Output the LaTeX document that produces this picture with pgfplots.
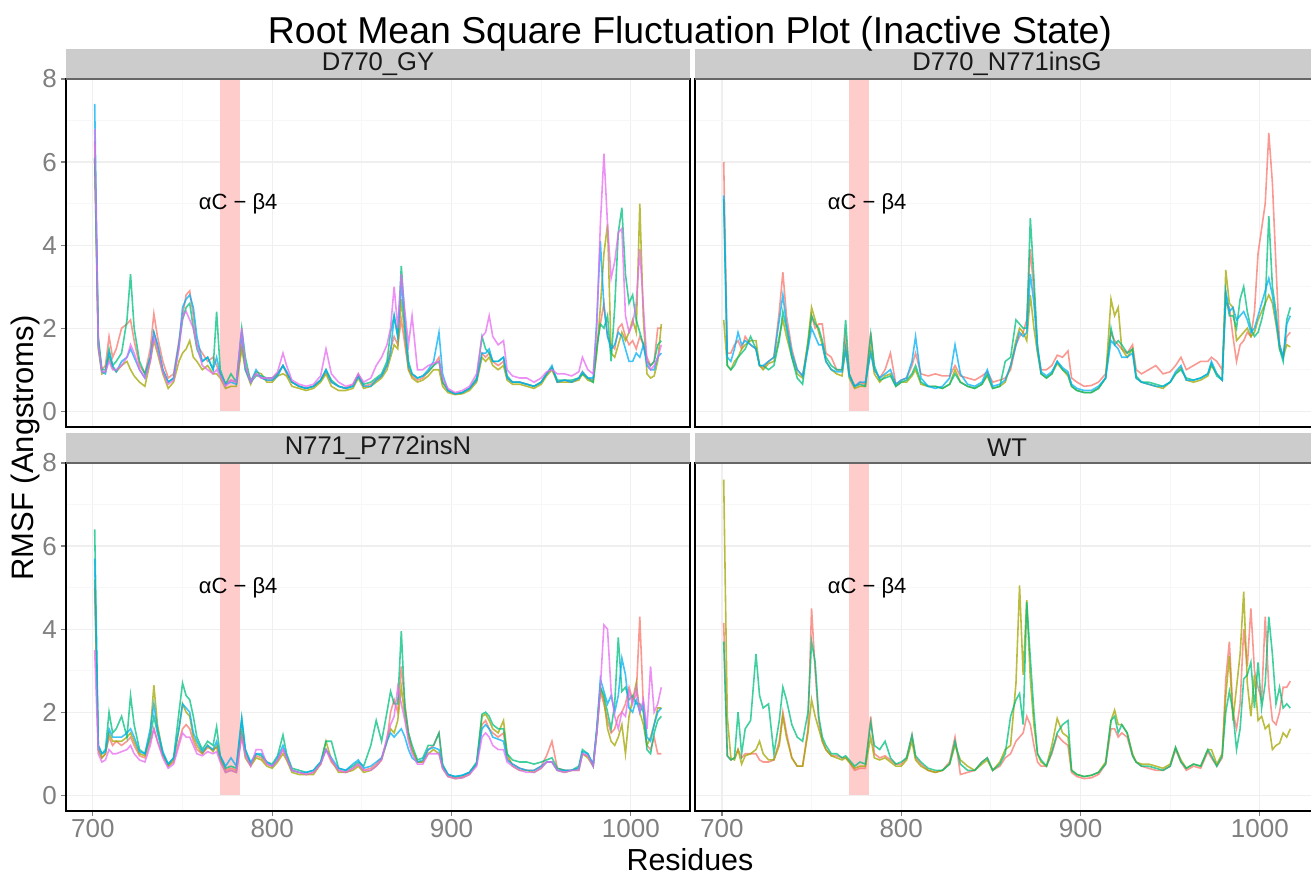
\documentclass[border=0pt]{standalone}
\usepackage{fontspec}
\setmainfont{Liberation Sans}
\usepackage{pgfplots}
\usepackage{pgfplotstable}
\pgfplotsset{compat=1.18}
\definecolor{cR}{HTML}{F8766D}
\definecolor{cO}{HTML}{A3A500}
\definecolor{cG}{HTML}{00BF7D}
\definecolor{cB}{HTML}{00B0F6}
\definecolor{cP}{HTML}{E76BF3}
\definecolor{tickgray}{HTML}{7F7F7F}
\definecolor{stripgray}{HTML}{CCCCCC}
\definecolor{gridmaj}{HTML}{EFEFEF}
\definecolor{gridmin}{HTML}{F7F7F7}
\definecolor{band}{HTML}{FFCCCC}

\pgfplotstableread{
x R O G B P
701 6.5 6.1 6.1 7.4 6.8
703 1.7 1.5 1.8 1.6 1.6
705 1.0 0.9 1.0 0.95 0.95
707 1.1 0.95 1.0 0.9 0.95
709 1.8 1.3 1.5 1.4 1.2
711 1.3 1.05 1.1 1.1 1.0
713 1.5 0.95 1.2 0.95 1.0
716 2.0 1.1 1.4 1.2 1.1
719 2.1 1.2 2.2 1.3 1.3
721 2.2 1.0 3.3 1.5 1.6
723 1.7 0.85 2.0 1.3 1.4
726 1.1 0.7 1.2 1.0 1.0
729 0.9 0.6 0.9 0.8 0.8
732 1.5 1.2 1.3 1.3 1.2
734 2.35 1.7 1.9 1.9 1.8
736 1.8 1.4 1.6 1.6 1.5
739 1.2 0.9 1.0 1.0 0.95
742 0.8 0.55 0.7 0.7 0.65
745 0.9 0.7 0.8 0.8 0.75
748 1.7 1.2 1.6 1.6 1.5
750 2.3 1.4 2.2 2.5 2.3
752 2.8 1.5 2.5 2.7 2.4
754 2.9 1.7 2.6 2.8 2.2
756 2.3 1.3 2.0 2.5 2.0
758 1.6 1.2 1.5 1.8 1.6
761 1.4 1.0 1.2 1.2 1.1
764 1.2 1.1 1.3 1.3 1.0
767 1.3 0.9 1.0 1.0 0.9
769 1.1 0.9 2.4 1.3 1.0
771 0.9 0.8 1.0 0.9 0.85
774 0.65 0.55 0.65 0.65 0.6
777 0.75 0.6 0.9 0.7 0.75
780 0.7 0.6 0.7 0.65 0.7
783 1.6 1.5 2.0 1.9 2.0
785 1.1 1.0 1.3 1.0 1.1
788 0.75 0.65 0.7 0.7 0.7
791 0.9 0.95 0.85 1.0 0.9
794 0.8 0.9 0.85 0.8 0.8
797 0.75 0.7 0.8 0.75 0.8
800 0.75 0.7 0.8 0.75 0.8
803 0.9 0.85 0.9 0.85 0.95
806 1.1 0.9 1.1 1.1 1.4
808 0.9 0.85 0.95 0.95 1.1
811 0.7 0.6 0.7 0.7 0.75
815 0.6 0.55 0.6 0.6 0.65
819 0.55 0.5 0.55 0.55 0.6
823 0.6 0.55 0.6 0.6 0.65
827 0.75 0.7 0.75 0.75 0.85
830 0.95 0.9 1.0 1.0 1.5
833 0.7 0.6 0.75 0.7 0.9
837 0.6 0.5 0.6 0.6 0.7
841 0.55 0.5 0.55 0.55 0.6
845 0.65 0.55 0.6 0.6 0.65
848 0.9 0.8 0.85 0.85 0.9
851 0.6 0.55 0.65 0.6 0.7
855 0.65 0.6 0.7 0.6 0.8
858 0.75 0.7 0.8 0.75 1.1
861 0.85 0.8 0.9 0.85 1.3
864 1.1 1.0 1.2 1.1 1.6
866 1.5 1.3 1.9 1.4 2.0
868 1.8 1.6 2.3 2.3 3.0
870 1.6 1.5 1.8 1.8 2.0
872 2.2 2.7 3.5 3.1 3.3
874 1.6 1.8 2.2 2.0 2.4
876 1.0 1.0 1.2 1.1 1.6
878 0.85 0.8 0.9 0.9 2.3
881 0.75 0.7 0.8 0.8 1.0
884 0.8 0.75 0.85 0.85 1.0
887 0.95 0.85 0.95 1.0 1.1
890 1.1 1.0 1.1 1.2 1.15
893 1.3 1.0 1.2 1.9 1.2
895 0.7 0.6 0.7 0.9 0.8
898 0.5 0.45 0.5 0.5 0.55
902 0.42 0.4 0.42 0.42 0.45
906 0.45 0.42 0.45 0.45 0.5
910 0.55 0.5 0.55 0.55 0.6
914 0.75 0.7 0.8 0.75 0.9
917 1.4 1.3 1.8 1.4 1.8
919 1.3 1.2 1.5 1.4 1.9
921 1.4 1.3 1.4 1.5 2.3
923 1.2 1.1 1.2 1.2 1.8
926 1.1 1.0 1.2 1.2 1.6
929 1.2 1.1 1.3 1.3 1.7
931 0.8 0.75 0.85 0.8 1.0
934 0.7 0.65 0.7 0.7 0.85
938 0.7 0.65 0.7 0.7 0.8
942 0.65 0.6 0.65 0.65 0.8
946 0.6 0.55 0.6 0.6 0.7
950 0.7 0.65 0.7 0.7 0.8
953 0.9 0.85 0.9 0.9 0.95
956 1.05 1.0 1.05 1.1 1.0
959 0.7 0.7 0.75 0.7 0.9
963 0.75 0.7 0.75 0.75 0.9
967 0.7 0.7 0.75 0.7 0.85
971 0.8 0.75 0.8 0.8 0.95
973 0.95 0.9 0.9 0.95 1.3
976 0.8 0.75 0.8 0.8 1.0
979 0.75 0.7 0.7 0.8 0.9
981 1.6 1.4 1.5 2.2 2.0
983 2.1 2.5 2.1 4.1 4.5
985 2.6 3.8 2.0 2.5 6.2
987 1.8 4.5 2.3 1.8 4.5
989 1.6 1.4 1.2 1.5 3.2
991 1.5 1.3 2.5 1.6 3.6
993 2.0 1.6 4.3 1.9 4.3
995 2.1 1.9 4.9 1.8 4.4
997 1.8 1.7 3.3 1.5 2.3
999 1.6 1.9 2.6 1.2 1.9
1001 1.7 2.2 2.8 1.2 2.1
1003 1.5 1.9 2.2 1.4 2.6
1005 1.8 5.0 1.9 1.3 3.9
1007 1.6 2.2 1.6 1.6 2.5
1009 1.3 0.9 1.2 1.1 1.2
1011 1.1 0.8 1.1 1.0 1.0
1013 1.2 0.85 1.2 1.0 1.1
1015 2.0 1.2 1.6 1.3 1.3
1017 2.0 2.1 1.7 1.4 1.6
}\tlData

\pgfplotstableread{
x R O G B
701 6.0 2.2 5.1 5.2
703 1.4 1.1 1.1 1.3
705 1.4 1.0 1.0 1.2
707 1.6 1.2 1.1 1.5
709 1.7 1.3 1.3 1.9
711 1.5 1.5 1.4 1.6
713 1.8 1.6 1.5 1.7
716 1.6 1.7 1.8 1.6
719 1.5 1.7 1.5 1.5
721 1.1 1.1 1.1 1.1
723 1.05 1.0 1.1 1.1
726 1.2 1.15 1.0 1.2
729 1.3 1.2 1.1 1.3
732 2.4 1.8 1.7 2.2
734 3.35 2.2 2.4 2.8
736 2.3 1.8 2.0 2.1
739 1.5 1.3 1.3 1.4
742 1.0 0.9 0.8 1.0
745 0.85 0.8 0.65 0.85
748 1.6 1.7 1.6 1.5
750 2.3 2.5 2.3 2.0
752 2.0 2.2 2.1 1.8
754 2.1 1.9 2.0 1.6
756 2.1 1.6 1.7 1.6
758 1.4 1.2 1.3 1.2
761 1.3 1.0 1.1 1.0
764 1.0 0.9 1.0 0.95
767 1.0 0.85 1.0 0.95
769 1.8 1.5 2.2 1.5
771 0.9 0.8 0.9 0.85
774 0.6 0.55 0.6 0.6
777 0.7 0.6 0.65 0.7
780 0.65 0.6 0.6 0.7
783 1.9 1.5 1.85 1.4
785 1.0 0.9 1.1 1.0
788 0.8 0.7 0.75 0.8
791 1.0 0.85 0.8 0.9
794 1.4 0.9 0.85 1.0
797 0.65 0.6 0.6 0.65
800 0.75 0.7 0.7 0.75
803 0.8 0.7 0.75 0.8
806 1.1 0.85 0.9 1.2
808 1.4 1.0 1.1 1.8
811 0.9 0.65 0.7 0.8
815 0.85 0.6 0.6 0.6
819 0.9 0.6 0.6 0.55
823 0.85 0.55 0.55 0.6
827 0.85 0.65 0.65 0.8
830 1.1 1.0 0.9 1.6
833 0.85 0.7 0.7 0.9
837 0.8 0.6 0.6 0.65
841 0.75 0.55 0.55 0.6
845 0.85 0.65 0.65 0.7
848 0.95 0.85 0.9 1.0
851 0.7 0.55 0.55 0.6
855 0.75 0.6 0.6 0.65
858 0.8 0.7 1.2 0.75
861 1.0 1.1 1.3 1.1
864 1.6 1.7 2.2 1.6
866 1.8 2.0 2.1 1.9
868 1.9 1.9 2.0 1.8
870 2.2 1.7 2.0 1.9
872 3.9 2.8 4.65 3.3
874 2.9 2.0 3.2 2.6
876 1.5 1.4 1.6 1.5
878 1.0 0.9 0.9 0.95
881 1.0 0.8 0.8 0.85
884 1.1 0.9 0.9 0.95
887 1.35 1.15 1.2 1.2
890 1.3 1.0 1.0 1.05
893 1.45 0.85 0.9 0.95
895 0.8 0.6 0.6 0.65
898 0.7 0.5 0.5 0.55
902 0.6 0.45 0.45 0.5
906 0.62 0.45 0.45 0.5
910 0.7 0.55 0.55 0.6
914 0.9 0.8 0.8 0.8
917 1.9 2.7 2.0 1.7
919 1.7 2.3 1.6 1.6
921 1.6 2.5 1.7 1.5
923 1.5 1.5 1.6 1.3
926 1.4 1.3 1.4 1.3
929 1.6 1.5 1.5 1.4
931 1.0 0.8 0.85 0.8
934 0.9 0.7 0.7 0.7
938 1.0 0.65 0.7 0.65
942 1.1 0.6 0.65 0.6
946 0.9 0.55 0.6 0.6
950 0.95 0.7 0.7 0.7
953 1.1 0.9 0.9 0.95
956 1.3 1.05 1.0 1.1
959 1.0 0.75 0.8 0.75
963 1.1 0.7 0.75 0.75
967 1.2 0.75 0.8 0.8
971 1.2 0.85 0.9 0.9
973 1.3 1.1 1.15 1.2
976 1.2 0.9 0.85 0.9
979 1.0 0.75 0.75 0.75
981 2.6 3.4 2.8 2.9
983 2.5 2.6 2.3 2.4
985 1.8 2.5 2.3 2.5
987 1.2 1.7 2.0 2.2
989 1.6 1.8 2.7 2.3
991 1.7 1.9 3.0 2.4
993 1.9 2.0 2.4 2.2
995 1.8 1.8 2.0 1.9
997 2.4 1.9 1.8 2.0
999 3.8 2.2 1.9 2.3
1001 4.4 2.4 2.2 2.6
1003 5.0 2.6 2.6 2.9
1005 6.7 2.8 4.7 3.2
1007 5.5 2.6 3.0 2.8
1009 3.5 2.1 2.4 2.2
1011 1.6 1.5 1.5 1.6
1013 1.3 1.3 1.2 1.3
1015 1.8 1.6 2.2 2.1
1017 1.9 1.55 2.5 2.3
}\trData

\pgfplotstableread{
x R O G B P
701 5.0 5.2 6.4 5.7 3.5
703 1.1 1.1 1.2 1.2 1.0
705 0.9 0.9 1.0 1.0 0.8
707 1.0 1.0 1.1 1.05 0.85
709 1.4 1.5 2.0 1.6 1.1
711 1.2 1.3 1.5 1.4 1.0
713 1.3 1.3 1.6 1.4 1.0
716 1.2 1.3 1.9 1.4 1.05
719 1.3 1.4 1.4 1.5 1.1
721 1.4 1.5 2.4 1.6 1.2
723 1.2 1.3 1.7 1.4 1.0
726 0.95 1.0 1.1 1.05 0.85
729 0.9 0.95 1.0 1.0 0.8
732 1.3 1.5 1.4 1.6 1.2
734 1.6 2.65 1.9 2.2 1.6
736 1.3 1.7 1.5 1.6 1.3
739 0.95 1.0 1.0 1.05 0.9
742 0.7 0.7 0.75 0.75 0.65
745 0.8 0.85 0.9 0.9 0.75
748 1.3 1.6 2.0 1.6 1.2
750 1.6 2.2 2.7 2.2 1.5
752 1.7 2.0 2.4 2.1 1.4
754 1.6 1.9 2.3 2.0 1.4
756 1.3 1.4 1.9 1.5 1.2
758 1.1 1.2 1.4 1.3 1.0
761 1.0 1.0 1.1 1.05 0.95
764 1.15 1.2 1.3 1.2 1.05
767 1.1 1.05 1.2 1.1 1.0
769 1.15 1.2 1.65 1.3 1.05
771 0.9 0.85 0.95 0.95 0.8
774 0.6 0.55 0.65 0.7 0.55
777 0.65 0.6 0.7 0.9 0.6
780 0.6 0.55 0.65 0.7 0.55
783 1.5 1.5 1.85 1.85 1.4
785 1.0 0.9 1.1 1.1 0.95
788 0.75 0.7 0.75 0.8 0.7
791 0.95 0.9 1.0 1.0 1.1
794 0.9 0.85 0.95 1.0 1.1
797 0.75 0.7 0.8 0.8 0.75
800 0.7 0.65 0.75 0.7 0.7
803 0.85 0.8 0.95 0.9 0.85
806 1.1 1.0 1.45 1.2 1.1
808 0.9 0.85 1.0 0.95 0.9
811 0.6 0.55 0.65 0.6 0.6
815 0.55 0.5 0.6 0.55 0.55
819 0.5 0.5 0.55 0.55 0.5
823 0.55 0.5 0.6 0.6 0.55
827 0.75 0.75 0.8 0.8 0.75
830 1.1 1.3 1.3 1.1 1.1
833 0.8 0.85 1.3 0.9 0.85
837 0.6 0.55 0.65 0.65 0.6
841 0.55 0.55 0.6 0.6 0.55
845 0.65 0.6 0.7 0.75 0.65
848 0.75 0.7 0.8 0.85 0.75
851 0.6 0.55 0.7 0.65 0.6
855 0.65 0.6 1.2 0.7 0.6
858 0.75 0.7 1.8 0.8 0.7
861 0.9 0.85 1.3 0.9 0.85
864 1.3 1.3 2.0 1.3 1.4
866 2.0 1.6 2.5 1.5 1.7
868 2.3 1.5 2.2 1.4 1.9
870 2.0 1.8 2.2 1.5 2.6
872 3.1 2.6 3.95 1.6 2.2
874 2.2 1.9 2.1 1.4 1.8
876 1.5 1.4 1.5 1.1 1.3
878 1.1 1.1 1.2 0.9 1.0
881 0.8 0.8 0.85 0.8 0.75
884 0.8 0.8 0.9 0.85 0.75
887 1.1 1.0 1.2 1.1 1.0
890 1.2 1.1 1.2 1.15 1.0
893 1.5 1.0 1.5 1.1 1.0
895 0.7 0.65 0.75 0.7 0.65
898 0.5 0.45 0.5 0.5 0.45
902 0.42 0.4 0.45 0.45 0.4
906 0.45 0.42 0.48 0.48 0.42
910 0.55 0.5 0.55 0.55 0.5
914 0.75 0.75 0.8 0.75 0.7
917 1.7 1.9 1.95 1.6 1.4
919 1.8 1.95 2.0 1.7 1.5
921 1.6 1.8 1.9 1.6 1.4
923 1.5 1.6 1.7 1.4 1.2
926 1.4 1.5 1.6 1.35 1.1
929 1.5 1.8 1.6 1.3 1.1
931 0.9 1.0 1.0 0.85 0.8
934 0.75 0.7 0.85 0.75 0.7
938 0.65 0.6 0.8 0.65 0.6
942 0.6 0.6 0.8 0.6 0.55
946 0.6 0.55 0.75 0.6 0.55
950 0.7 0.65 0.8 0.7 0.65
953 0.95 0.8 0.85 0.8 0.8
956 1.3 0.8 0.9 0.8 0.8
959 0.65 0.6 0.65 0.6 0.6
963 0.6 0.55 0.6 0.6 0.55
967 0.6 0.6 0.6 0.6 0.6
971 0.65 0.6 0.7 0.65 0.6
973 1.0 1.0 1.1 1.05 1.0
976 0.95 0.9 1.0 1.0 0.95
979 0.75 0.7 0.7 0.75 0.7
981 1.5 1.5 1.6 1.6 1.5
983 2.5 2.6 2.6 2.8 2.6
985 2.2 2.3 2.4 2.5 4.1
987 1.8 1.6 2.0 2.2 4.0
989 1.5 1.3 1.6 2.4 2.5
991 1.6 1.2 2.2 2.0 1.9
993 1.9 1.4 3.8 2.4 1.6
995 2.0 1.7 2.5 3.3 2.0
997 2.2 1.0 2.6 2.9 1.9
999 2.6 1.9 2.3 2.1 2.5
1001 2.3 2.3 2.4 2.0 2.2
1003 2.4 2.7 2.2 2.3 2.6
1005 4.3 2.0 2.2 2.0 2.0
1007 2.1 1.7 2.0 2.2 2.3
1009 1.2 1.2 1.1 1.4 1.6
1011 1.1 1.4 1.0 1.3 3.1
1013 1.4 1.7 1.5 1.7 2.0
1015 1.0 2.1 1.8 2.0 2.2
1017 1.0 2.1 1.9 2.1 2.6
}\blData

\pgfplotstableread{
x R O G
701 4.15 7.6 3.7
703 0.95 1.9 0.95
705 0.85 0.9 0.85
707 0.9 0.85 0.9
709 1.1 1.1 2.0
711 0.9 0.75 1.0
713 1.0 0.95 1.6
716 1.0 1.0 1.8
719 1.0 1.1 3.4
721 0.85 1.3 2.4
723 0.8 1.0 2.1
726 0.8 0.85 2.2
729 0.85 0.85 1.0
732 1.3 1.2 1.8
734 2.0 1.9 2.6
736 1.5 1.4 2.3
739 0.9 0.9 1.7
742 0.7 0.7 1.4
745 0.7 0.7 1.3
748 1.6 1.5 2.0
750 4.5 2.3 3.7
752 3.0 1.9 3.2
754 1.8 1.6 1.9
756 1.3 1.3 1.4
758 1.1 1.1 1.2
761 0.95 0.95 1.0
764 0.95 0.9 1.0
767 0.9 0.85 0.9
769 0.9 0.9 0.95
771 0.8 0.8 0.85
774 0.6 0.65 0.7
777 0.65 0.7 0.8
780 0.65 0.7 0.75
783 1.9 1.4 1.75
785 1.0 0.9 1.2
788 0.9 0.85 1.1
791 0.95 0.9 1.3
794 0.85 0.8 0.9
797 0.75 0.7 0.75
800 0.75 0.7 0.8
803 0.9 0.85 0.9
806 1.45 1.3 1.45
808 0.9 0.85 0.95
811 0.75 0.7 0.8
815 0.6 0.6 0.65
819 0.55 0.55 0.6
823 0.6 0.6 0.6
827 0.8 0.75 0.75
830 1.4 1.2 1.3
833 0.5 0.85 0.75
837 0.55 0.7 0.6
841 0.6 0.6 0.6
845 0.8 0.75 0.8
848 0.9 0.85 0.9
851 0.6 0.6 0.6
855 0.7 0.8 0.75
858 0.9 1.1 1.0
861 1.0 1.2 1.9
864 1.3 2.7 2.3
866 1.4 5.05 2.45
868 1.5 2.9 1.7
870 1.9 4.7 4.65
872 1.7 2.8 3.3
874 1.2 1.7 2.0
876 0.8 1.0 1.0
878 0.7 0.8 0.85
881 0.7 0.7 0.7
884 1.0 1.2 1.05
887 1.45 1.85 1.5
890 1.3 1.5 1.7
893 1.2 1.4 1.8
895 0.55 0.6 0.6
898 0.45 0.5 0.5
902 0.4 0.45 0.45
906 0.42 0.48 0.48
910 0.5 0.55 0.55
914 0.75 0.8 0.75
917 1.6 1.8 1.8
919 1.6 2.05 1.9
921 1.4 1.7 1.5
923 1.5 1.7 1.7
926 1.4 1.5 1.5
929 0.95 1.0 0.95
931 0.8 0.8 0.8
934 0.7 0.75 0.7
938 0.65 0.75 0.7
942 0.6 0.7 0.65
946 0.6 0.65 0.6
950 0.7 0.75 0.7
953 1.1 1.15 1.15
956 0.8 0.85 0.8
959 0.6 0.65 0.65
963 0.7 0.75 0.75
967 0.65 0.7 0.7
971 1.05 1.1 1.1
973 0.9 1.1 0.95
976 0.7 0.75 0.7
979 0.9 1.0 0.95
981 2.8 2.4 2.0
983 3.7 3.35 2.5
985 2.0 1.8 2.0
987 1.6 2.6 1.1
989 2.2 3.4 1.6
991 4.0 4.9 2.8
993 3.1 2.7 2.9
995 4.5 1.9 3.2
997 3.0 2.9 2.1
999 2.6 1.8 3.2
1001 2.3 1.9 2.1
1003 4.3 1.6 2.7
1005 2.6 1.7 4.3
1007 1.8 1.1 3.4
1009 1.7 1.2 2.2
1011 2.0 1.25 2.6
1013 2.6 1.5 2.1
1015 2.6 1.4 2.2
1017 2.75 1.6 2.1
}\wtData

\pgfplotsset{
  panel/.style={
    scale only axis, width=312pt, height=174pt,
    xmin=685, xmax=1033, ymin=-0.38, ymax=8,
    xtick={700,800,900,1000}, ytick={0,2,4,6,8},
    minor xtick={750,850,950}, minor ytick={1,3,5,7},
    grid=both,
    major grid style={draw=gridmaj, line width=0.6pt},
    minor grid style={draw=gridmin, line width=0.4pt},
    tick align=outside, tick pos=left,
    major tick length=2.5pt, minor tick length=0pt,
    tick style={draw=tickgray, line width=0.6pt},
    ticklabel style={font=\fontsize{13}{15}\selectfont, text=tickgray},
    /pgf/number format/assume math mode=true,
    /pgf/number format/1000 sep={},
    axis line style={draw=black, line width=0.6pt},
    xticklabel style={yshift=-0.5pt, inner ysep=1pt},
    yticklabel style={xshift=1.5pt},
  },
  notx/.style={xticklabels={}, xtick style={draw=none}},
  noty/.style={yticklabels={}, ytick style={draw=none}},
  ln/.style={line width=0.8pt, draw opacity=0.75},
}

\newcommand{\bandandlabel}{%
  \fill[band] (axis cs:771,0) rectangle (axis cs:782,8);
  \node[font=\fontsize{11}{13}\selectfont] at (axis cs:781,5) {αC − β4};
}

\begin{document}
\begin{tikzpicture}
\useasboundingbox (0,0) rectangle (655.5pt,-437.5pt);

% Top-left
\begin{axis}[panel, notx, name=tl, at={(33pt,-39.5pt)}, anchor=north west]
\bandandlabel
\addplot[ln, draw=cR] table[x=x,y=R]{\tlData};
\addplot[ln, draw=cO] table[x=x,y=O]{\tlData};
\addplot[ln, draw=cG] table[x=x,y=G]{\tlData};
\addplot[ln, draw=cB] table[x=x,y=B]{\tlData};
\addplot[ln, draw=cP] table[x=x,y=P]{\tlData};
\end{axis}

% Top-right
\begin{axis}[panel, notx, noty, name=tr, at={(347.5pt,-39.5pt)}, anchor=north west]
\bandandlabel
\addplot[ln, draw=cR] table[x=x,y=R]{\trData};
\addplot[ln, draw=cO] table[x=x,y=O]{\trData};
\addplot[ln, draw=cG] table[x=x,y=G]{\trData};
\addplot[ln, draw=cB] table[x=x,y=B]{\trData};
\end{axis}

% Bottom-left
\begin{axis}[panel, name=bl, at={(33pt,-231.5pt)}, anchor=north west]
\bandandlabel
\addplot[ln, draw=cR] table[x=x,y=R]{\blData};
\addplot[ln, draw=cO] table[x=x,y=O]{\blData};
\addplot[ln, draw=cG] table[x=x,y=G]{\blData};
\addplot[ln, draw=cB] table[x=x,y=B]{\blData};
\addplot[ln, draw=cP] table[x=x,y=P]{\blData};
\end{axis}

% Bottom-right
\begin{axis}[panel, noty, name=br, at={(347.5pt,-231.5pt)}, anchor=north west]
\bandandlabel
\addplot[ln, draw=cR] table[x=x,y=R]{\wtData};
\addplot[ln, draw=cO] table[x=x,y=O]{\wtData};
\addplot[ln, draw=cG] table[x=x,y=G]{\wtData};
\end{axis}

% Strips
\foreach \p/\lab in {tl/D770\_GY, tr/D770\_N771insG, bl/N771\_P772insN, br/WT}{
  \fill[stripgray] (\p.north west) rectangle ([yshift=15pt]\p.north east);
  \draw[black!60, line width=0.6pt] (\p.north west) -- (\p.north east);
  \node[font=\fontsize{12.8}{15}\selectfont, text=black!90] at ([yshift=7.5pt]\p.north) {\lab};
}

% Titles
\node[anchor=base, font=\fontsize{18.7}{22}\selectfont] at (345pt,-21.5pt) {Root Mean Square Fluctuation Plot (Inactive State)};
\node[anchor=base, font=\fontsize{15.2}{18}\selectfont, inner sep=0pt] at (345pt,-435.3pt) {Residues};
\node[anchor=base, rotate=90, font=\fontsize{15.5}{18}\selectfont] at (16.5pt,-224pt) {RMSF (Angstroms)};
\end{tikzpicture}
\end{document}
